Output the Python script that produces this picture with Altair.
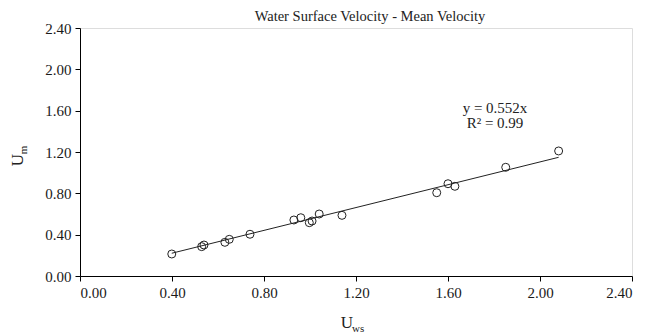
import altair as alt
import pandas as pd

# Data
u_ws = [0.399, 0.529, 0.539, 0.630, 0.649, 0.739, 0.930, 0.960, 0.997, 1.009,
        1.040, 1.139, 1.551, 1.600, 1.630, 1.851, 2.081]
u_m = [0.213, 0.284, 0.300, 0.326, 0.355, 0.404, 0.542, 0.564, 0.516, 0.532,
       0.600, 0.587, 0.806, 0.893, 0.868, 1.052, 1.210]
slope = 0.552
tick_values = [0.0, 0.4, 0.8, 1.2, 1.6, 2.0, 2.4]
title_text = "Water Surface Velocity - Mean Velocity"
eq_lines = ["y = 0.552x", "R² = 0.99"]

pts = pd.DataFrame({"x": u_ws, "y": u_m})
fit = pd.DataFrame({"x": [min(u_ws), max(u_ws)]})
fit["y"] = fit["x"] * slope

FONT = "Times New Roman, Liberation Serif, Times, serif"
W, H = 552, 248

xs = alt.Scale(domain=[0, 2.4], nice=False, zero=False)
ys = alt.Scale(domain=[0, 2.4], nice=False, zero=False)

axis_common = dict(
    values=tick_values, format=".2f", grid=False,
    domainColor="#000", domainWidth=1, tickColor="#000", tickSize=5,
    labelFont=FONT, labelFontSize=15, labelColor="#1a1a1a", title=None,
)

points = alt.Chart(pts).mark_point(
    shape="circle", filled=False, size=64, stroke="#222", strokeWidth=1, opacity=1
).encode(
    x=alt.X("x:Q", scale=xs, axis=alt.Axis(labelPadding=4, **axis_common)),
    y=alt.Y("y:Q", scale=ys, axis=alt.Axis(labelPadding=4, **axis_common)),
)

line = alt.Chart(fit).mark_line(color="#222", strokeWidth=1).encode(
    x=alt.X("x:Q", scale=xs), y=alt.Y("y:Q", scale=ys)
)

def label(text, x, y, size, **kw):
    return alt.Chart(pd.DataFrame({"t": [text]})).mark_text(
        font=FONT, fontSize=size, color="#222", **kw
    ).encode(text="t:N", x=alt.value(x), y=alt.value(y))

title = label(title_text, 290, -7, 14.5, align="center", baseline="alphabetic")
eq1 = label(eq_lines[0], 415, 85, 15, align="center", baseline="alphabetic")
eq2 = label(eq_lines[1], 415, 100, 15, align="center", baseline="alphabetic")

xt_U = label("U", 267, 300, 17, align="center", baseline="alphabetic")
xt_sub = label("ws", 272, 304, 11, align="left", baseline="alphabetic")
yt_U = label("U", -57, 132, 17, align="center", baseline="alphabetic", angle=270)
yt_sub = label("m", -53, 122, 11, align="center", baseline="alphabetic", angle=270)

chart = alt.layer(
    line, points, title, eq1, eq2, xt_U, xt_sub, yt_U, yt_sub
).properties(
    width=W, height=H,
    autosize=alt.AutoSizeParams(type="none"),
    padding={"left": 72, "top": 20, "right": 9, "bottom": 58},
).configure_view(
    stroke="#a0a0a0", strokeWidth=1
).configure(background="white")

chart.save("out.html", embed_options={"renderer": "svg", "actions": False})
